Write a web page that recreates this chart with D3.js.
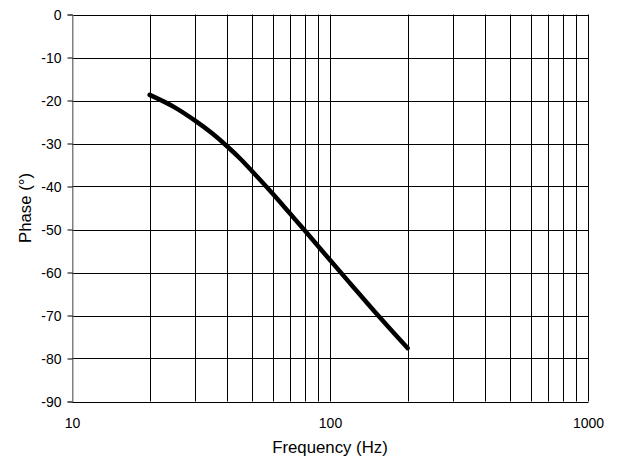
<!DOCTYPE html>
<html>
<head>
<meta charset="utf-8">
<script src="https://cdn.jsdelivr.net/npm/d3@7"></script>
<style>
  html, body { margin: 0; padding: 0; background: #fff; }
  svg { display: block; font-family: "Liberation Sans", Arial, sans-serif; }
</style>
</head>
<body>
<svg id="chart" width="621" height="465"></svg>
<script>
// Data
const frequency = [20, 25, 30, 35, 40, 45, 50, 60, 70, 80, 90, 100, 120, 150, 175, 200];
const phase = [-18.7, -21.6, -24.7, -27.7, -30.7, -33.6, -36.5, -41.7, -46.3, -50.3, -53.9, -57.1, -62.6, -69.3, -73.8, -77.6];
const xTickLabels = [10, 100, 1000];
const yTickValues = [0, -10, -20, -30, -40, -50, -60, -70, -80, -90];
const xTitle = "Frequency (Hz)";
const yTitle = "Phase (°)";

const svg = d3.select("#chart");
const pL = 72, pR = 588, pT = 14.5, pB = 401.5;

const x = d3.scaleLog().domain([10, 1000]).range([pL, pR]);
const y = d3.scaleLinear().domain([-90, 0]).range([pB, pT]);

// grid values for log axis (1..9 per decade)
const xGrid = [];
for (let d = 10; d < 1000; d *= 10) {
  for (let k = 1; k < 10; k++) xGrid.push(d * k);
}
xGrid.push(1000);

const g = svg.append("g");

// vertical grid lines
g.selectAll("line.vx").data(xGrid).enter().append("line")
  .attr("x1", d => Math.round(x(d)) + 0.5).attr("x2", d => Math.round(x(d)) + 0.5)
  .attr("y1", pT).attr("y2", pB)
  .attr("stroke", d => d === 10 ? "#808080" : "#000")
  .attr("stroke-width", 1);

// horizontal grid lines
g.selectAll("line.hy").data(yTickValues).enter().append("line")
  .attr("x1", pL).attr("x2", Math.round(x(1000)) + 0.5)
  .attr("y1", d => Math.round(y(d)) + 0.5).attr("y2", d => Math.round(y(d)) + 0.5)
  .attr("stroke", "#000").attr("stroke-width", 1);

// left axis with tick marks
const yAxis = d3.axisLeft(y).tickValues(yTickValues).tickSize(5).tickPadding(6)
  .tickFormat(d3.format("d"));
const ya = svg.append("g").attr("transform", `translate(${Math.round(pL) + 0.5},0)`).call(yAxis);
ya.select(".domain").attr("stroke", "#808080");
ya.selectAll(".tick line").attr("stroke", "#000");
ya.selectAll(".tick text").attr("font-size", "14px").attr("fill", "#000")
  .attr("font-family", "Liberation Sans, Arial, sans-serif")
  .attr("dy", "0.35em")
  .text(d => d === 0 ? "0" : "-" + Math.abs(d));

// bottom axis labels
const xAxis = d3.axisBottom(x).tickValues(xTickLabels).tickSize(0).tickPadding(0)
  .tickFormat(d3.format("d"));
const xa = svg.append("g").attr("transform", `translate(0,${pB})`).call(xAxis);
xa.select(".domain").remove();
xa.selectAll(".tick text").attr("font-size", "14px").attr("fill", "#000")
  .attr("font-family", "Liberation Sans, Arial, sans-serif")
  .attr("y", 26.5).attr("dy", 0);

// data line
const pts = frequency.map((f, i) => [f, phase[i]]);
svg.append("path")
  .datum(pts)
  .attr("fill", "none")
  .attr("stroke", "#000")
  .attr("stroke-width", 4.5)
  .attr("stroke-linecap", "round")
  .attr("stroke-linejoin", "round")
  .attr("d", d3.line().x(d => x(d[0])).y(d => y(d[1])).curve(d3.curveMonotoneX));

// axis titles
svg.append("text")
  .attr("x", (pL + pR) / 2).attr("y", 453)
  .attr("text-anchor", "middle").attr("font-size", "16.8px").attr("fill", "#000")
  .text(xTitle);

svg.append("text")
  .attr("transform", `translate(31,${(pT + pB) / 2}) rotate(-90)`)
  .attr("text-anchor", "middle").attr("font-size", "16.8px").attr("fill", "#000")
  .text(yTitle);
</script>
</body>
</html>
